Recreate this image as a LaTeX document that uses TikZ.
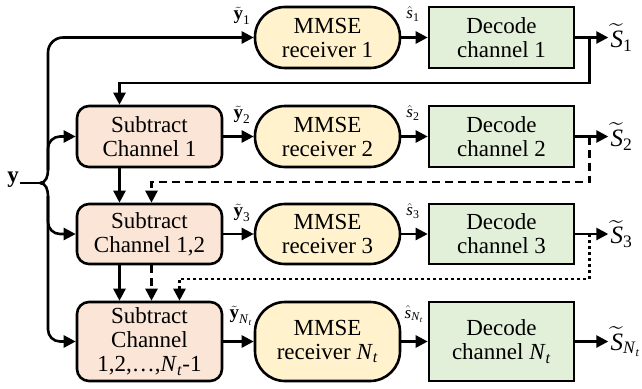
\documentclass[tikz,border=0pt]{standalone}
\usepackage{fontspec}
\usepackage{amsmath}
\setmainfont{Liberation Serif}
\usetikzlibrary{arrows.meta,calc}
\definecolor{subc}{HTML}{FBE5D6}
\definecolor{mmc}{HTML}{FFF2CC}
\definecolor{dcc}{HTML}{E2F0D9}
\newcommand{\ylab}[1]{$\tilde{\textbf{y}}_{\text{#1}}$}
\newcommand{\shat}[1]{$\hat{\textit{s}}_{\text{#1}}$}
\newcommand{\stil}[1]{$\widetilde{\textit{S}}_{\text{#1}}$}
\newcommand{\Nt}{\textit{N}\textsubscript{\textit{t}}}
\begin{document}
\begin{tikzpicture}[x=1pt,y=-1pt,line width=2.6pt,
  arr/.style={-{Triangle[length=12pt,width=12pt]}},
  boxbase/.style={draw,line width=2.6pt,inner sep=0pt,minimum width=145pt,align=center,
    font=\fontsize{23}{24}\selectfont},
  subbox/.style={boxbase,fill=subc,rounded corners=12pt},
  mmbox/.style={boxbase,fill=mmc,rounded corners=30pt},
  dcbox/.style={boxbase,fill=dcc},
  ylabel/.style={font=\fontsize{19}{20}\selectfont,inner sep=0pt},
  slabel/.style={font=\fontsize{17}{18}\selectfont,inner sep=0pt},
  olabel/.style={font=\fontsize{25}{26}\selectfont,inner sep=1pt,anchor=west},
  dsh/.style={dash pattern=on 8pt off 5pt},
  dtt/.style={dash pattern=on 3pt off 3pt}]
\useasboundingbox (0,0) rectangle (642,388);

% boxes
\node[mmbox,minimum height=61pt] (mm1) at (327.5,37.5) {MMSE\\receiver 1};
\node[dcbox,minimum height=61pt] (dc1) at (501.5,37.5) {Decode\\channel 1};

\node[subbox,minimum height=61pt] (sub1) at (149.5,136.5) {Subtract\\Channel 1};
\node[mmbox,minimum height=61pt] (mm2) at (327.5,136.5) {MMSE\\receiver 2};
\node[dcbox,minimum height=61pt] (dc2) at (501.5,136.5) {Decode\\channel 2};

\node[subbox,minimum height=60pt] (sub2) at (149.5,234) {Subtract\\Channel 1,2};
\node[mmbox,minimum height=60pt] (mm3) at (327.5,234) {MMSE\\receiver 3};
\node[dcbox,minimum height=60pt] (dc3) at (501.5,234) {Decode\\channel 3};

\node[subbox,minimum height=79pt] (sub3) at (149.5,341.5) {Subtract\\Channel\\1,2,\ldots,\Nt-1};
\node[mmbox,minimum height=79pt] (mm4) at (327.5,341.5) {MMSE\\receiver \Nt};
\node[dcbox,minimum height=79pt] (dc4) at (501.5,341.5) {Decode\\channel \Nt};

% input
\node[font=\fontsize{23}{24}\selectfont\bfseries,inner sep=0pt] (yin) at (13,180) {y};
\coordinate (yj) at (40,183);
\coordinate (jt) at (48,170);
\coordinate (jb) at (48,196);
\draw (yin.east |- yj) -- (yj);
\draw (yj) to[out=0,in=-90] (jt);
\draw (yj) to[out=0,in=90] (jb);
\draw[arr,rounded corners=15pt] (jt) |- (mm1.west);
\draw[arr,rounded corners=12pt] (jt) |- (sub1.west);
\draw[arr,rounded corners=12pt] (jb) |- (sub2.west);
\draw[arr,rounded corners=12pt] (jb) |- (sub3.west);

% horizontal arrows
\draw[arr] (sub1.east) -- (mm2.west);
\draw[arr] (sub2.east) -- (mm3.west);
\draw[arr] (sub3.east) -- (mm4.west);
\draw[arr] (mm1.east) -- (dc1.west);
\draw[arr] (mm2.east) -- (dc2.west);
\draw[arr] (mm3.east) -- (dc3.west);
\draw[arr] (mm4.east) -- (dc4.west);

% outputs
\coordinate (o1) at ($(dc1.east)+(33,0)$);
\coordinate (o2) at ($(dc2.east)+(33,0)$);
\coordinate (o3) at ($(dc3.east)+(33,0)$);
\coordinate (o4) at ($(dc4.east)+(33,0)$);
\draw[arr] (dc1.east) -- (o1);
\draw[arr] (dc2.east) -- (o2);
\draw[arr] (dc3.east) -- (o3);
\draw[arr] (dc4.east) -- (o4);
\node[olabel] (s1) at (o1) {\stil{1}};
\node[olabel] (s2) at (o2) {\stil{2}};
\node[olabel] (s3) at (o3) {\stil{3}};
\node[olabel] (s4) at (o4) {\stil{\Nt}};

% labels
\node[ylabel] (y1) at (242,16) {\ylab{1}};
\node[ylabel] (y2) at (242,115) {\ylab{2}};
\node[ylabel] (y3) at (242,213) {\ylab{3}};
\node[ylabel] (y4) at (241,316) {\ylab{\Nt}};
\node[slabel] (h1) at (413,14) {\shat{1}};
\node[slabel] (h2) at (413,113) {\shat{2}};
\node[slabel] (h3) at (413,211) {\shat{3}};
\node[slabel] (h4) at (414,314) {\shat{\Nt}};

% feedback
\coordinate (f1) at ($(dc1.east)+(14,0)$);
\coordinate (f2) at ($(dc2.east)+(14,0)$);
\coordinate (f3) at ($(dc3.east)+(14,0)$);
\draw[arr] (f1) -- ++(0,45.5) -| ($(sub1.north)+(-30,0)$);
\draw[arr,dsh] (f2) -- ++(0,45.5) -| ($(sub2.north)+(2,0)$);
\draw[arr,dtt] (f3) -- ++(0,45) -| ($(sub3.north)+(30,0)$);
\draw[arr] ($(sub1.south)+(-30,0)$) -- ($(sub2.north)+(-30,0)$);
\draw[arr] ($(sub2.south)+(-30,0)$) -- ($(sub3.north)+(-30,0)$);
\draw[arr,dsh] ($(sub2.south)+(2,0)$) -- ($(sub3.north)+(2,0)$);
\end{tikzpicture}
\end{document}
